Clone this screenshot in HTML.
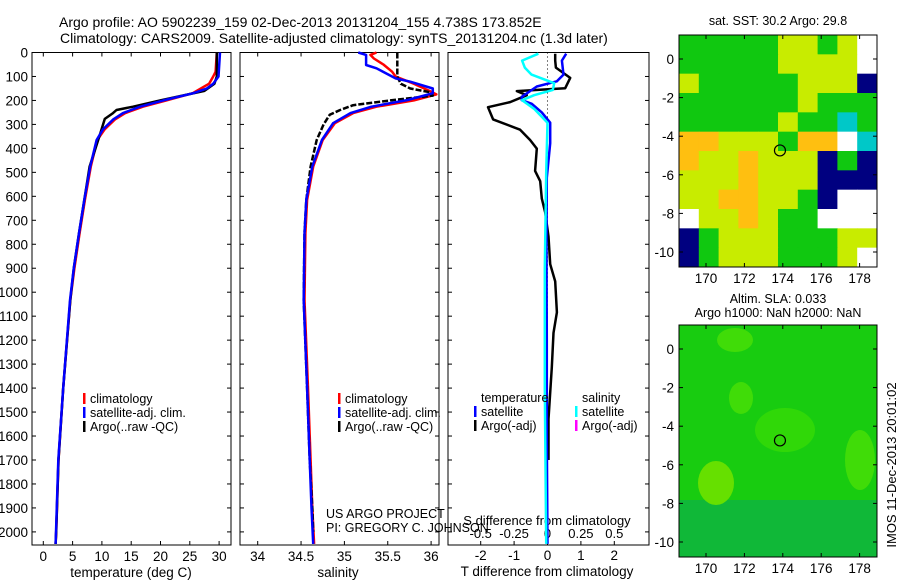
<!DOCTYPE html>
<html><head><meta charset="utf-8">
<style>
body{margin:0;background:#fff;}
svg{display:block;font-family:"Liberation Sans",sans-serif;}
</style></head>
<body>
<svg id="c" width="900" height="580" viewBox="0 0 900 580" xmlns="http://www.w3.org/2000/svg">
<text x="59" y="27" font-size="14">Argo profile: AO 5902239_159 02-Dec-2013 20131204_155 4.738S 173.852E</text>
<text x="60" y="43" font-size="14">Climatology: CARS2009. Satellite-adjusted climatology: synTS_20131204.nc (1.3d later)</text>
<g id="plots"></g>
</svg>
<script>
// ---- data ----
const depthTicks=[0,100,200,300,400,500,600,700,800,900,1000,1100,1200,1300,1400,1500,1600,1700,1800,1900,2000];
const tTicks=[0,5,10,15,20,25,30];
const sTicks=[34,34.5,35,35.5,36];
const sTickLabels=["34","34.5","35","35.5","36"];
const dTTicks=[-2,-1,0,1,2];
const dSTicks=[-0.5,-0.25,0,0.25,0.5];
const dSTickLabels=["-0.5","-0.25","0","0.25","0.5"];

const tClimDepth=[0,80,100,130,170,200,226,253,280,320,365,476,615,754,900,1033,1400,1700,2000,2050];
const tClimVal=[29.6,29.4,29.0,28.3,25.5,21,17,14,12.2,10.5,9.2,8.1,7.1,6.2,5.3,4.6,3.4,2.6,2.2,2.1];
const tSatDepth=[0,100,130,150,170,200,226,253,280,320,365,476,615,754,900,1033,1400,1700,2000,2050];
const tSatVal=[30.15,29.9,29.0,27.9,25.6,20.5,16.5,13.6,11.9,10.2,9.1,8.0,7.0,6.1,5.2,4.55,3.4,2.56,2.17,2.1];
const tArgoDepth=[0,100,130,160,200,226,240,253,277,340,408,476,615,754,900,1033,1400,1700,2000,2050];
const tArgoVal=[29.6,29.6,29.2,27.5,20.0,15.3,12.5,11.9,10.5,9.7,8.8,7.9,7.0,6.1,5.2,4.6,3.4,2.6,2.2,2.1];

const sClimDepth=[0,10,25,50,80,100,130,160,175,200,226,253,295,365,476,615,754,1033,1400,1700,1900,2050];
const sClimVal=[35.37,35.30,35.34,35.45,35.55,35.59,35.80,35.98,36.06,35.80,35.37,35.10,34.89,34.75,34.64,34.57,34.55,34.54,34.58,34.61,34.63,34.65];
const sSatDepth=[0,10,38,52,66,108,122,150,170,198,226,253,295,365,476,615,754,1033,1400,1700,1900,2050];
const sSatVal=[35.16,35.25,35.25,35.25,35.37,35.59,35.76,36.02,36.02,35.73,35.31,35.07,34.87,34.74,34.63,34.56,34.54,34.53,34.57,34.60,34.62,34.64];
const sArgoDepth=[0,100,130,150,165,180,200,220,240,260,300,365,476,615,754,1033,1400,1700,1900,2000];
const sArgoVal=[35.61,35.61,35.65,35.76,35.98,36.02,35.53,35.10,34.95,34.83,34.76,34.68,34.61,34.56,34.54,34.53,34.57,34.60,34.63,34.64];

const dTArgoDepth=[5,34,63,106,149,161,178,207,228,279,322,365,401,494,537,609,667,768,883,955,1084,1170,1314,1529,1700];
const dTArgoVal=[0.23,0.23,0.25,0.68,0.53,-0.92,-0.62,-1.12,-1.78,-1.63,-0.82,-0.52,-0.32,-0.37,-0.22,-0.17,-0.07,0.03,0.08,0.23,0.28,0.18,0.13,0.03,0.03];
const dTSatDepth=[5,34,92,120,142,185,199,214,250,293,379,523,800,1200,1600,2050];
const dTSatVal=[0.56,0.43,0.48,0.28,-0.32,-0.77,-0.77,-0.47,-0.17,0.08,0.08,-0.02,-0.03,-0.02,-0.02,0.0];
const dSSatDepth=[5,34,63,92,128,156,178,199,235,293,500,900,1400,2050];
const dSSatVal=[-0.068,-0.19,-0.17,-0.12,0.05,0.04,-0.1,-0.19,-0.1,0,-0.01,-0.02,-0.02,-0.01];

// map grid codes (rows top->bottom)
const sstRows=["GGGGGYYGYW","GGGGGYYYYW","YGGGGGYYYD","GGGGGGYGGG","GGGGGYGGCG","OOYYYGOOWC","OYYOYYYDGD","YYYOYYYDDD","YYOOYYGDWW","WYYOYGGWWW","DGYYYGGGYY","DGYYYGGGYW"];
const lonTicks=[170,172,174,176,178];
const latTicks=[0,-2,-4,-6,-8,-10];

// ---- drawing ----
const NS="http://www.w3.org/2000/svg";
const root=document.getElementById('plots');
function el(tag,attrs,parent){const e=document.createElementNS(NS,tag);for(const k in attrs)e.setAttribute(k,attrs[k]);(parent||root).appendChild(e);return e;}
function txt(x,y,s,size,anchor,parent){const t=el('text',{x:x,y:y,'font-size':size,'text-anchor':anchor||'start'},parent);t.textContent=s;return t;}

const yTop=52.5, ppm=0.2397, yBot=545;
const yD=d=>yTop+d*ppm;
const xT=v=>43.3+v*5.86;
const xS=v=>257.7+(v-34)*86.7;
const xDT=v=>547.5+v*33.4;
const xDS=v=>547.5+v*133.6;

function panel(x0,x1,name){
  const r=el('rect',{x:x0,y:yTop,width:x1-x0,height:yBot-yTop,fill:'none',stroke:'#000','stroke-width':1});
  
  
  depthTicks.forEach(d=>{
    el('line',{x1:x0,x2:x0+4,y1:yD(d),y2:yD(d),stroke:'#000'});
    el('line',{x1:x1,x2:x1-4,y1:yD(d),y2:yD(d),stroke:'#000'});
  });
}
function line(ds,vs,xf,color,w,name,dash){
  const pts=ds.map((d,i)=>xf(vs[i]).toFixed(1)+','+yD(d).toFixed(1)).join(' ');
  const p=el('polyline',{points:pts,fill:'none',stroke:color,'stroke-width':w,'stroke-linejoin':'round'});
  if(dash)p.setAttribute('stroke-dasharray',dash);
  
  
  return p;
}

depthTicks.forEach(d=>{const t=txt(28,yD(d)+5,String(d),13.5,'end');
  
  });

// temperature panel
panel(32,231,'temperature-panel');
tTicks.forEach(v=>{el('line',{x1:xT(v),x2:xT(v),y1:yBot,y2:yBot-4,stroke:'#000'});el('line',{x1:xT(v),x2:xT(v),y1:yTop,y2:yTop+4,stroke:'#000'});
  const t=txt(xT(v),561,String(v),13.5,'middle');
  
  });
let t=txt(131,577,'temperature (deg C)',13.5,'middle');


line(tClimDepth,tClimVal,xT,'#f00',2.5,'temp-climatology-line');
line(tArgoDepth,tArgoVal,xT,'#000',2.5,'temp-argo-line');
line(tSatDepth,tSatVal,xT,'#00f',2.5,'temp-satellite-line');

// salinity panel
panel(240,439,'salinity-panel');
sTicks.forEach((v,i)=>{el('line',{x1:xS(v),x2:xS(v),y1:yBot,y2:yBot-4,stroke:'#000'});el('line',{x1:xS(v),x2:xS(v),y1:yTop,y2:yTop+4,stroke:'#000'});
  const t=txt(xS(v),561,sTickLabels[i],13.5,'middle');
  
  });
t=txt(338,577,'salinity',13.5,'middle');


line(sClimDepth,sClimVal,xS,'#f00',2.5,'sal-climatology-line');
line(sArgoDepth,sArgoVal,xS,'#000',2.5,'sal-argo-line','6 2');
line(sSatDepth,sSatVal,xS,'#00f',2.5,'sal-satellite-line');

function legend(x,y,items,name){
  const g=el('g',{});
  
  
  items.forEach((it,i)=>{
    if(it[0])el('rect',{x:x,y:y+i*14-6,width:2.5,height:11,fill:it[0]},g);
    txt(x+7,y+i*14+4,it[1],12.5,'start',g);
  });
}
legend(83,399,[['#f00','climatology'],['#00f','satellite-adj. clim.'],['#000','Argo(..raw -QC)']],'temperature-legend');
legend(338,399,[['#f00','climatology'],['#00f','satellite-adj. clim.'],['#000','Argo(..raw -QC)']],'salinity-legend');
t=txt(326,518,'US ARGO PROJECT',12.5,'start');


t=txt(326,532,'PI: GREGORY C. JOHNSON',12.5,'start');



// difference panel
panel(448,649,'difference-panel');
el('line',{x1:xDT(0),x2:xDT(0),y1:yTop,y2:yBot,stroke:'#000','stroke-dasharray':'1 3'});
dTTicks.forEach(v=>{el('line',{x1:xDT(v),x2:xDT(v),y1:yBot,y2:yBot-4,stroke:'#000'});
  const t=txt(xDT(v),560,String(v),13.5,'middle');
  
  });
dSTicks.forEach((v,i)=>{
  const t=txt(xDS(v),538,dSTickLabels[i],13,'middle');
  
  });
t=txt(547,525,'S difference from climatology',13,'middle');


t=txt(547,576,'T difference from climatology',13.5,'middle');


line(dTArgoDepth,dTArgoVal,xDT,'#000',2.5,'tdiff-argo-line');
line(dTSatDepth,dTSatVal,xDT,'#00f',2.5,'tdiff-satellite-line');
line(dSSatDepth,dSSatVal,xDS,'#0ff',2.5,'sdiff-satellite-line');
legend(474,398,[[null,'temperature'],['#00f','satellite'],['#000','Argo(-adj)']],'tdiff-legend');
legend(575,398,[[null,'salinity'],['#0ff','satellite'],['#f0f','Argo(-adj)']],'sdiff-legend');

// maps
const mapX0=679,mapX1=877;
const lonX=v=>706+(v-170)*19.2;
const colors={G:'#10c810',Y:'#c8ec00',O:'#ffbf10',D:'#000080',W:'#ffffff',C:'#00c8c8'};
function mapAxes(y0,y1,lat0y,name){
  const r=el('rect',{x:mapX0,y:y0,width:mapX1-mapX0,height:y1-y0,fill:'none',stroke:'#000'});
  
  
  const latY=v=>lat0y-v*19.3;
  latTicks.forEach(v=>{el('line',{x1:mapX0,x2:mapX0+4,y1:latY(v),y2:latY(v),stroke:'#000'});el('line',{x1:mapX1,x2:mapX1-4,y1:latY(v),y2:latY(v),stroke:'#000'});
    const t=txt(674,latY(v)+5,String(v),13.5,'end');
    
    });
  lonTicks.forEach(v=>{el('line',{x1:lonX(v),x2:lonX(v),y1:y1,y2:y1-4,stroke:'#000'});el('line',{x1:lonX(v),x2:lonX(v),y1:y0,y2:y0+4,stroke:'#000'});
    const t=txt(lonX(v),y1+16,String(v),13.5,'middle');
    
    });
  const c=el('circle',{cx:lonX(173.852),cy:latY(-4.738),r:5.5,fill:'none',stroke:'#000','stroke-width':1.2});
  
  
}
const sy0=35,sy1=267,cw=(mapX1-mapX0)/10,ch=(sy1-sy0)/12;
const sstG=el('g',{});


sstRows.forEach((row,r)=>{[...row].forEach((k,c)=>{el('rect',{x:mapX0+c*cw,y:sy0+r*ch,width:cw+0.5,height:ch+0.5,fill:colors[k]},sstG);});});
mapAxes(sy0,sy1,59,'sst-map-frame');
t=txt(778,25,'sat. SST: 30.2 Argo: 29.8',12.5,'middle');


const by0=325,by1=557;
const slaG=el('g',{});


el('rect',{x:mapX0,y:by0,width:mapX1-mapX0,height:by1-by0,fill:'#18cc10'},slaG);
el('rect',{x:mapX0,y:500,width:mapX1-mapX0,height:57,fill:'#10b838'},slaG);
el('ellipse',{cx:716,cy:483,rx:18,ry:22,fill:'#66e000'},slaG);
el('ellipse',{cx:785,cy:430,rx:30,ry:22,fill:'#30d808'},slaG);
el('ellipse',{cx:741,cy:398,rx:12,ry:16,fill:'#40dc08'},slaG);
el('ellipse',{cx:735,cy:340,rx:18,ry:12,fill:'#40dc08'},slaG);
el('ellipse',{cx:860,cy:460,rx:15,ry:30,fill:'#40dc08'},slaG);
mapAxes(by0,by1,349,'sla-map-frame');
t=txt(778,303,'Altim. SLA: 0.033',12.5,'middle');


t=txt(778,317,'Argo h1000: NaN h2000: NaN',12.5,'middle');


t=txt(0,0,'IMOS 11-Dec-2013 20:01:02',13,'middle');
t.setAttribute('transform','translate(896,465) rotate(-90)');


</script>
</body></html>
